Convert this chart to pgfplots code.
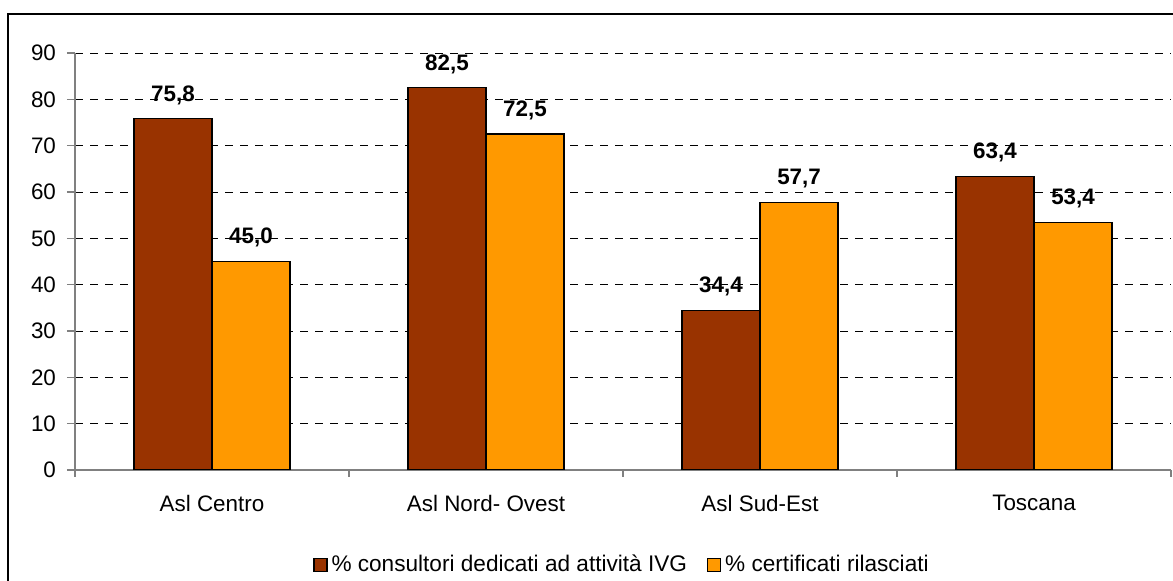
\documentclass[border=0pt]{standalone}
\usepackage{fontspec}
\setmainfont{Liberation Sans}
\usepackage{pgfplots}
\pgfplotsset{compat=1.18}
\definecolor{cBrown}{HTML}{993300}
\definecolor{cOrange}{HTML}{FF9900}
\begin{document}
\begin{tikzpicture}[x=1pt,y=1pt]
\path[use as bounding box] (-37.5,-55.5) rectangle (549,235);
\draw[line width=0.8pt] (-33.5,228) rectangle (560,-70);
\begin{axis}[
  at={(0,0)}, anchor=south west,
  scale only axis, width=548pt, height=208.5pt,
  xmin=0.5, xmax=4.5, ymin=0, ymax=90,
  ybar=0pt, bar width=0.285,
  axis x line*=bottom, axis y line*=left,
  axis line style={black!50, line width=0.6pt},
  ytick={0,10,...,90},
  ymajorgrids,
  grid style={black, dash pattern=on 4pt off 3.5pt, line width=0.4pt},
  xtick={1,2,3,4},
  xticklabels={Asl Centro, Asl Nord- Ovest, Asl Sud-Est, Toscana},
  major x tick style={draw=none},
  minor xtick={0.5,1.5,2.5,3.5,4.5},
  minor x tick style={black!50, line width=0.6pt},
  y tick style={black!50, line width=0.6pt},
  tick align=outside,
  major tick length=4pt, minor tick length=3.5pt,
  /pgf/number format/assume math mode=true,
  tick label style={font=\fontsize{11.2}{13}\selectfont},
  y tick label style={xshift=-2pt},
  x tick label style={yshift=-5pt},
  nodes near coords={\pgfmathprintnumber[fixed, fixed zerofill, precision=1, use comma]{\pgfplotspointmeta}},
  every node near coord/.append style={font=\bfseries\fontsize{11.2}{13}\selectfont, yshift=3.5pt},
  legend style={at={(axis description cs:0.5,0)}, anchor=center, yshift=-47.5pt,
    draw=none, fill=none, legend columns=2, font=\fontsize{11.3}{13}\selectfont,
    /tikz/every even column/.append style={column sep=8pt}},
  legend cell align=left,
]
\addplot[fill=cBrown, draw=black, line width=0.6pt,
  legend image code/.code={\draw[fill=cBrown,draw=black,line width=0.6pt] (0pt,-3.25pt) rectangle (6.5pt,3.25pt);}]
  coordinates {(1,75.8) (2,82.5) (3,34.4) (4,63.4)};
\addlegendentry{\% consultori dedicati ad attività IVG}
\addplot[fill=cOrange, draw=black, line width=0.6pt,
  legend image code/.code={\draw[fill=cOrange,draw=black,line width=0.6pt] (0pt,-3.25pt) rectangle (6.5pt,3.25pt);}]
  coordinates {(1,45.0) (2,72.5) (3,57.7) (4,53.4)};
\addlegendentry{\% certificati rilasciati}
\end{axis}
\end{tikzpicture}
\end{document}
